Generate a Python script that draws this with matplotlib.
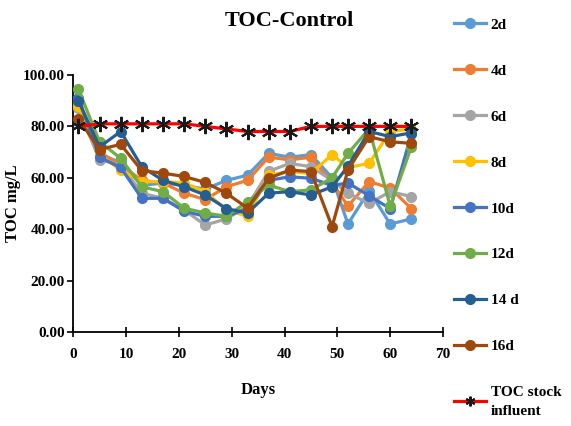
import matplotlib
matplotlib.use("Agg")
import matplotlib.pyplot as plt

plt.rcParams['font.family'] = ['Liberation Serif', 'DejaVu Serif']
plt.rcParams['font.weight'] = 'bold'

# Sampling days
days = [1, 5, 9, 13, 17, 21, 25, 29, 33, 37, 41, 45, 49, 52, 56, 60, 64]

# TOC (mg/L) per retention time
toc_2d = [90, 69, 66, 57, 58, 57, 55.6, 59, 61, 69.5, 68, 69, 60, 42, 55, 42, 44]
toc_4d = [89, 70, 65, 59, 58, 54, 51.5, 56.5, 59, 68, 67, 68, 58, 49, 58.5, 56, 48]
toc_6d = [87, 67, 65, 54, 52, 47.5, 41.6, 44, 49, 62.5, 65.6, 64.3, 59, 54, 50, 54.6, 52.7]
toc_8d = [88, 69, 63, 58.5, 58.5, 58, 54.6, 47.5, 45, 61, 62.4, 61.7, 69, 64, 65.6, 78, 79]
toc_10d = [91, 68, 64, 52, 52, 47, 45, 45, 48, 59, 60.4, 59.8, 57, 58, 53, 48, 77]
toc_12d = [94.5, 74, 67.6, 56.5, 54.6, 48.2, 46.3, 45, 50.7, 57.2, 54.6, 55.3, 60, 69.5, 79, 49, 72]
toc_14d = [90, 72, 78, 64.3, 59, 56.5, 53.3, 48, 46.3, 54, 54.6, 53.3, 56.5, 64.5, 78, 76, 77.5]
toc_16d = [83, 71, 73, 62.8, 61.8, 60.5, 58.2, 54, 48.2, 59.8, 63, 62.4, 41, 63, 76, 74, 73.4]
toc_stock = [80, 81, 81, 81, 81, 81, 80, 79, 78, 78, 78, 80, 80, 80, 80, 80, 80]

series_labels = ['2d', '4d', '6d', '8d', '10d', '12d', '14 d', '16d']
series_values = [toc_2d, toc_4d, toc_6d, toc_8d, toc_10d, toc_12d, toc_14d, toc_16d]
series_colors = ['#5B9BD5', '#ED7D31', '#A5A5A5', '#FFC000',
                 '#4472C4', '#70AD47', '#255E91', '#9E480E']

y_ticks = [0, 20, 40, 60, 80, 100]
x_ticks = [0, 10, 20, 30, 40, 50, 60, 70]

fig = plt.figure(figsize=(5.71, 4.26), dpi=100)
ax = fig.add_axes([0.128, 0.2207, 0.648, 0.6033])

handles = []
for lab, vals, col in zip(series_labels, series_values, series_colors):
    h, = ax.plot(days, vals, color=col, lw=2.3, marker='o', ms=7,
                 mfc=col, mec=col, label=lab, zorder=3)
    handles.append(h)

h_stock, = ax.plot(days, toc_stock, color='#FF0000', lw=2.3, marker=(6, 2, 0),
                   ms=11, mec='#1a1a1a', mew=1.5, label='TOC stock\ninfluent', zorder=4)
handles.append(h_stock)

ax.set_xlim(0, 70)
ax.set_ylim(0, 100)
ax.set_xticks(x_ticks)
ax.set_yticks(y_ticks)
ax.set_yticklabels([f'{v:.2f}' for v in y_ticks])
ax.tick_params(axis='x', direction='inout', length=7, width=1.2, labelsize=11, pad=8)
ax.tick_params(axis='y', direction='out', length=4, width=1.2, labelsize=11, pad=2)
for lbl in ax.get_xticklabels() + ax.get_yticklabels():
    lbl.set_fontweight('bold')

for side in ('top', 'right'):
    ax.spines[side].set_visible(False)
for side in ('left', 'bottom'):
    ax.spines[side].set_linewidth(1.3)
    ax.spines[side].set_color('black')

ax.set_xlabel('Days', fontsize=12, fontweight='bold', labelpad=15)
ax.set_ylabel('TOC mg/L', fontsize=12, fontweight='bold')
ax.yaxis.set_label_coords(-0.14, 0.5)

fig.text(289 / 571, 1 - 21 / 426, 'TOC-Control', ha='center', va='center',
         fontsize=16, fontweight='bold')

leg = fig.legend(handles=handles, loc='upper left',
                 bbox_to_anchor=(448 / 571, 1 - 12 / 426),
                 frameon=False, labelspacing=2.11,
                 handlelength=2.1, handletextpad=0.3, borderaxespad=0,
                 prop={'weight': 'bold', 'size': 11})
for h in leg.legend_handles:
    h.set_markersize(7)
leg.get_texts()[-1].set_linespacing(1.6)

fig.savefig('out.png', dpi=100)
